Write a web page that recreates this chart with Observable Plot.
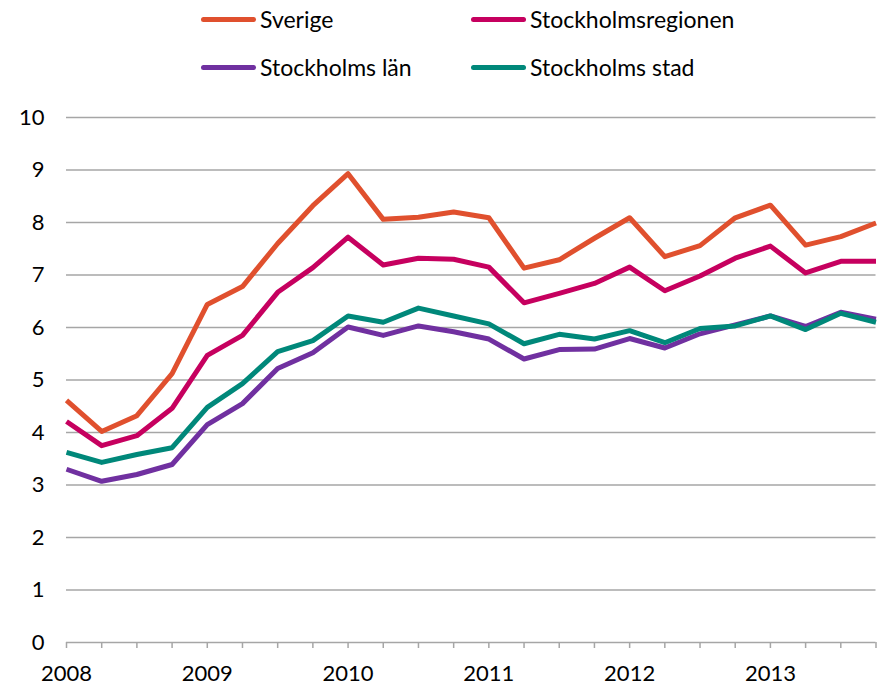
<!DOCTYPE html>
<html>
<head>
<meta charset="utf-8">
<script src="https://cdn.jsdelivr.net/npm/d3@7"></script>
<script src="https://cdn.jsdelivr.net/npm/@observablehq/plot@0.6"></script>
<style>
  html, body { margin: 0; padding: 0; background: #fff; }
  body { width: 877px; height: 687px; overflow: hidden; font-family: "Lato", "Noto Sans", sans-serif; }
  #legend { position: relative; height: 95px; width: 877px; }
  .item { position: absolute; display: flex; align-items: center; font-size: 23px; color: #000; }
  .sw { width: 55px; height: 5px; border-radius: 3px; margin-right: 4px; }
  svg { display: block; }
</style>
</head>
<body>
<div id="legend"></div>
<div id="chart"></div>
<script>
const seriesNames = ["Sverige", "Stockholmsregionen", "Stockholms län", "Stockholms stad"];
const seriesColors = ["#E0502E", "#C6005F", "#7030A0", "#00887A"];
const yearLabels = ["2008", "2009", "2010", "2011", "2012", "2013"];
const yTicks = [0, 1, 2, 3, 4, 5, 6, 7, 8, 9, 10];

const sverige = [4.61, 4.02, 4.32, 5.12, 6.44, 6.78, 7.60, 8.32, 8.93, 8.06, 8.10, 8.20, 8.09, 7.13, 7.29, 7.70, 8.09, 7.35, 7.56, 8.09, 8.33, 7.57, 7.73, 7.99];
const stockholmsregionen = [4.21, 3.75, 3.94, 4.46, 5.47, 5.85, 6.67, 7.14, 7.72, 7.19, 7.32, 7.30, 7.15, 6.47, 6.65, 6.84, 7.15, 6.70, 6.98, 7.32, 7.55, 7.04, 7.26, 7.26];
const stockholmsLan = [3.30, 3.07, 3.20, 3.39, 4.15, 4.55, 5.22, 5.52, 6.01, 5.85, 6.03, 5.92, 5.78, 5.40, 5.58, 5.59, 5.79, 5.61, 5.88, 6.05, 6.22, 6.02, 6.29, 6.16];
const stockholmsStad = [3.62, 3.43, 3.58, 3.71, 4.48, 4.93, 5.54, 5.75, 6.22, 6.10, 6.37, 6.22, 6.07, 5.69, 5.87, 5.78, 5.94, 5.71, 5.98, 6.03, 6.22, 5.96, 6.27, 6.10];

const allSeries = [sverige, stockholmsregionen, stockholmsLan, stockholmsStad];
const data = allSeries.flatMap((vals, s) => vals.map((v, i) => ({ q: i, value: v, series: seriesNames[s] })));

// Legend
const legend = document.getElementById("legend");
const legendPos = [[201, 20], [471, 20], [201, 68], [471, 68]];
seriesNames.forEach((name, i) => {
  const d = document.createElement("div");
  d.className = "item";
  d.style.left = legendPos[i][0] + "px";
  d.style.top = (legendPos[i][1] - 15) + "px";
  d.innerHTML = `<span class="sw" style="background:${seriesColors[i]}"></span><span>${name}</span>`;
  legend.appendChild(d);
});

const quarterIdx = d3.range(0, 24);
const chart = Plot.plot({
  width: 877,
  height: 592,
  marginTop: 22,
  marginBottom: 45,
  marginLeft: 66,
  marginRight: 1.5,
  style: { fontFamily: "Lato, 'Noto Sans', sans-serif", fontSize: "22px", color: "#000", background: "#fff" },
  x: { domain: [0, 23], axis: null },
  y: { domain: [0, 10], axis: null },
  color: { domain: seriesNames, range: seriesColors },
  marks: [
    Plot.ruleY(yTicks, { stroke: "#a6a6a6", strokeWidth: 1.5 }),
    Plot.axisY(yTicks, { tickSize: 0, tickPadding: 22, fontSize: 22, fill: "#000", label: null, tickFormat: d => String(d) }),
    Plot.axisX(quarterIdx, { tickSize: 6, stroke: "#a6a6a6", strokeWidth: 1.5, tickFormat: () => "", label: null }),
    Plot.axisX(yearLabels.map((_, i) => i * 4), { tickSize: 0, tickPadding: 23, fontSize: 22, fill: "#000", label: null, tickFormat: (d) => yearLabels[d / 4] }),
    Plot.line(data, { x: "q", y: "value", z: "series", stroke: "series", strokeWidth: 5, strokeLinejoin: "round", strokeLinecap: "butt" })
  ]
});
document.getElementById("chart").appendChild(chart);
</script>
</body>
</html>
